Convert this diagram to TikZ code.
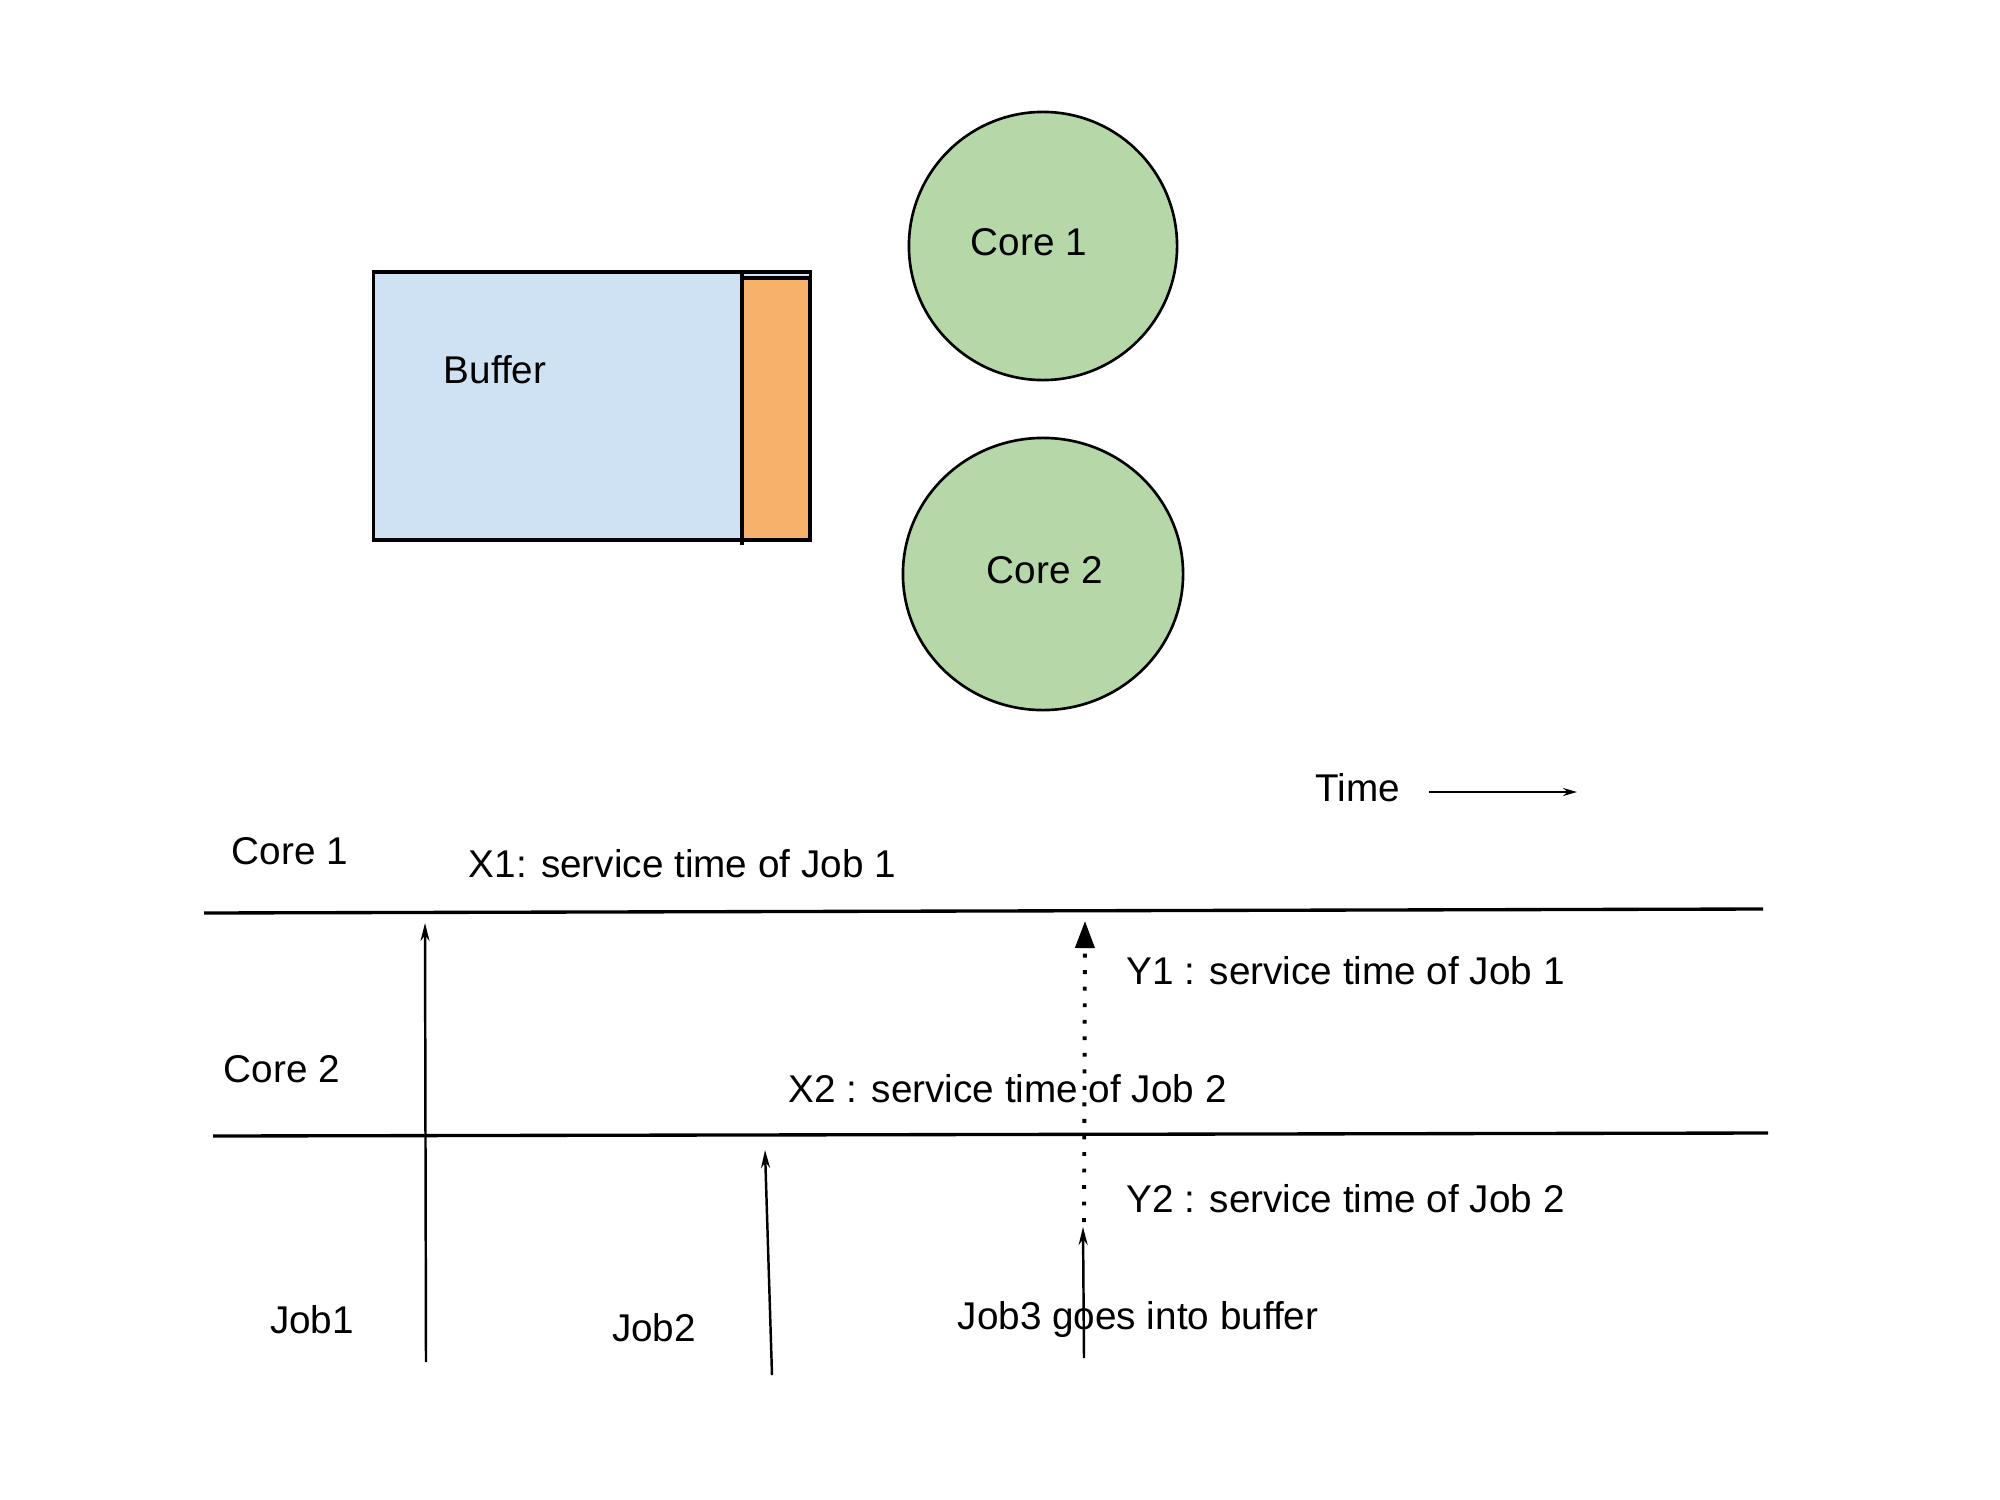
\documentclass[tikz,border=0pt]{standalone}
\usepackage{fontspec}
\setmainfont{Liberation Sans}
\usetikzlibrary{arrows.meta,shapes.geometric}
\definecolor{bufblue}{HTML}{CFE2F3}
\definecolor{bufor}{HTML}{F6B26B}
\definecolor{coregreen}{HTML}{B6D7A8}
\tikzset{
  lbl/.style={inner sep=0pt, font=\fontsize{11}{13}\selectfont},
  corenode/.style={draw=black, line width=0.75pt, fill=coregreen, inner sep=0pt},
  tline/.style={line width=0.95pt},
  jobarrow/.style={line width=0.7pt, -{Stealth[length=0.18cm,width=0.09cm]}},
  dotarrow/.style={line width=1.1pt, dash pattern=on 1.1pt off 3.6pt, -{Triangle[length=0.27cm,width=0.19cm]}},
}
\begin{document}
\begin{tikzpicture}[x=0.01cm,y=-0.01cm]
\useasboundingbox (0,0) rectangle (2000,1500);
% buffer
\node[draw=black, line width=0.9pt, fill=bufblue, minimum width=4.36cm, minimum height=2.68cm, inner sep=0pt] (buf) at (592,406) {};
\node[draw=black, line width=0.9pt, fill=bufor, minimum width=0.68cm, minimum height=2.62cm, inner sep=0pt] (slot) at (776,409) {};
\coordinate (sl1) at (742,272);
\coordinate (sl2) at (742,545);
\draw[line width=0.9pt] (sl1) -- (sl2);
\node[lbl] (buflbl) at (495,370) {Buffer};
% cores
\node[corenode, circle, minimum size=2.68cm] (c1) at (1043,246) {};
\node[lbl] (c1lbl) at (1029,242) {Core 1};
\node[corenode, ellipse, minimum width=2.80cm, minimum height=2.72cm] (c2) at (1043,574) {};
\node[lbl] (c2lbl) at (1045,570) {Core 2};
% time
\node[lbl] (time) at (1358,788) {Time};
\coordinate (ta) at (1429,792);
\coordinate (tb) at (1577,792);
\draw[line width=0.6pt, -{Stealth[length=0.14cm,width=0.08cm]}] (ta) -- (tb);
% timelines
\coordinate (l1a) at (204,913);
\coordinate (l1b) at (1763,909);
\coordinate (l2a) at (213,1136);
\coordinate (l2b) at (1768,1133);
\draw[tline] (l1a) -- (l1b);
\draw[tline] (l2a) -- (l2b);
% labels
\node[lbl] (core1) at (290,851) {Core 1};
\node[lbl] (core2) at (282,1069) {Core 2};
\node[lbl, anchor=west] (x1) at (468,864) {X1: service time of Job 1};
\node[lbl, anchor=west] (y1) at (1126,971) {Y1 : service time of Job 1};
\node[lbl, anchor=west] (x2) at (788,1089) {X2 : service time of Job 2};
\node[lbl, anchor=west] (y2) at (1126,1199) {Y2 : service time of Job 2};
\node[lbl] (job1) at (312,1320) {Job1};
\node[lbl] (job2) at (654,1328) {Job2};
\node[lbl, anchor=west] (job3) at (957,1319) {Job3 goes into buffer};
% arrows
\coordinate (j1s) at (426,1362);
\coordinate (j1e) at (425,923);
\coordinate (j2s) at (772,1375);
\coordinate (j2e) at (765,1150);
\coordinate (j3s) at (1084,1358);
\coordinate (j3e) at (1083,1227);
\coordinate (ds) at (1084,1222);
\coordinate (de) at (1085,921);
\draw[jobarrow] (j1s) -- (j1e);
\draw[jobarrow] (j2s) -- (j2e);
\draw[jobarrow] (j3s) -- (j3e);
\draw[dotarrow] (ds) -- (de);
\end{tikzpicture}
\end{document}
